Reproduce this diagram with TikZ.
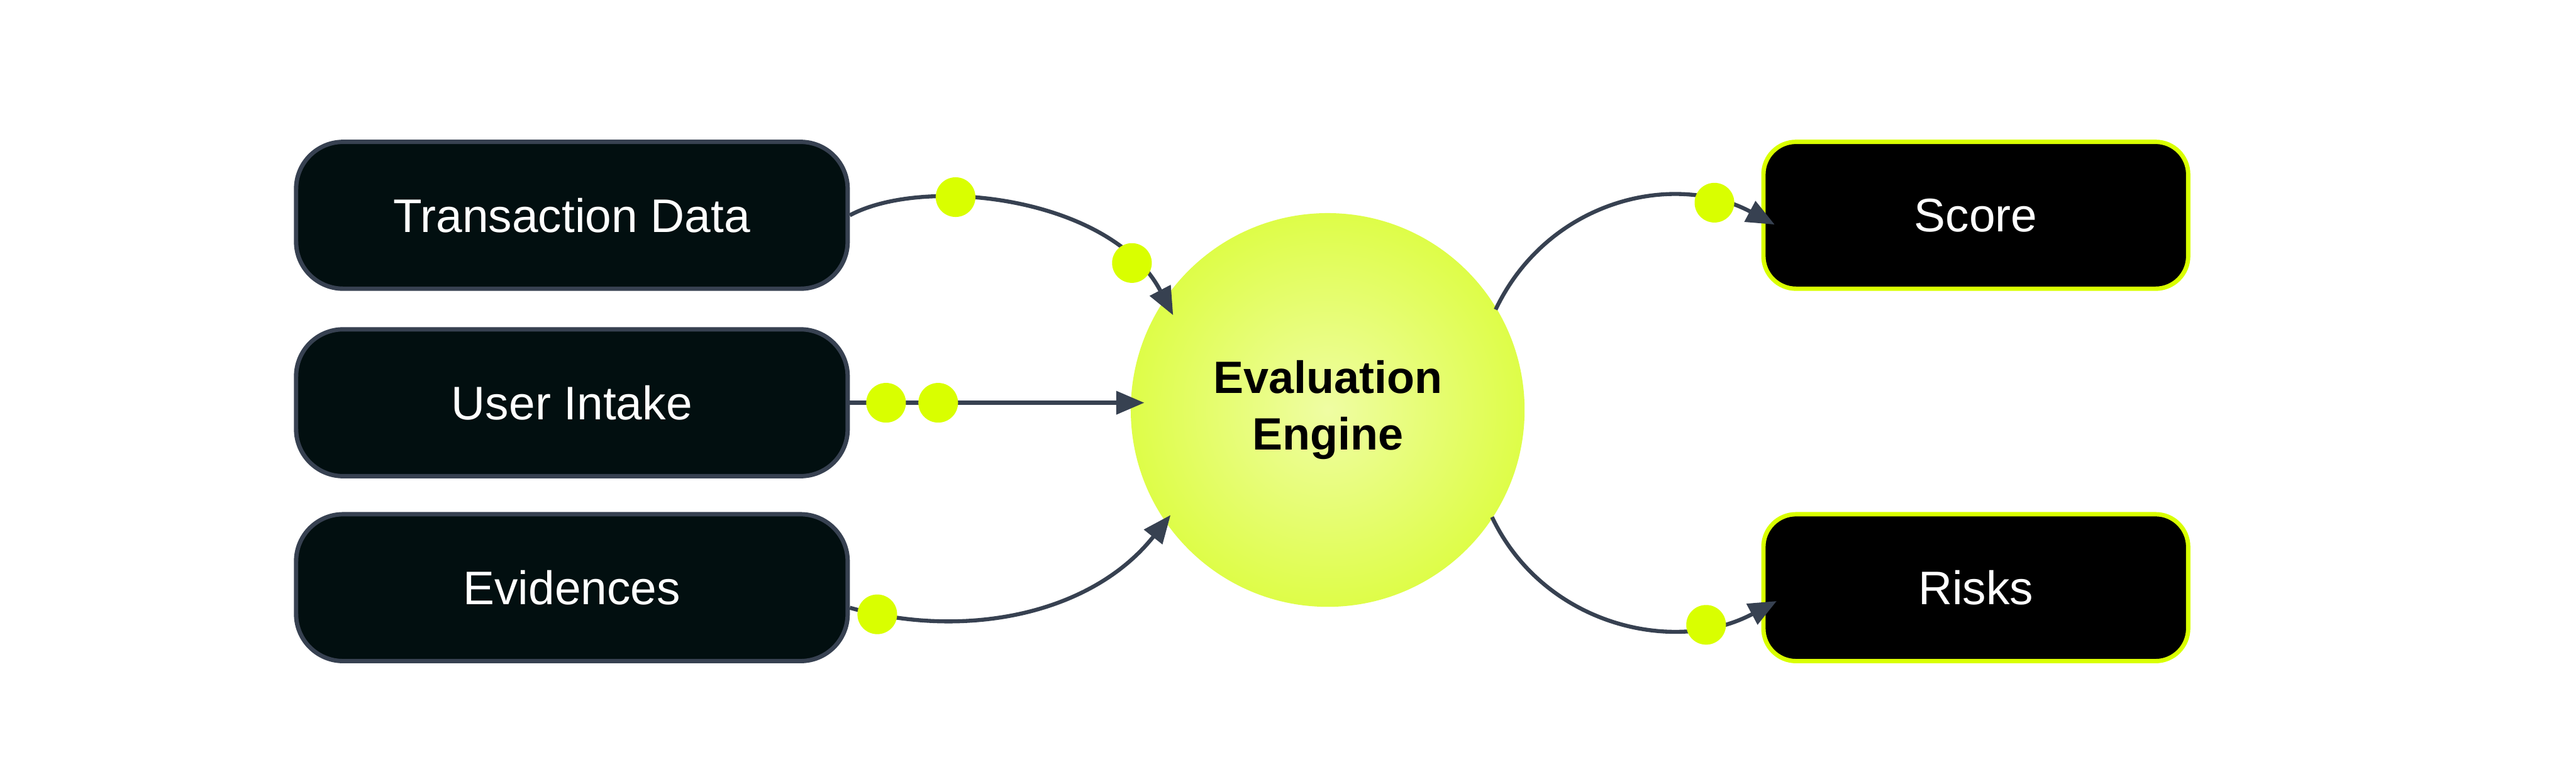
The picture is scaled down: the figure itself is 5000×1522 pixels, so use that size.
\documentclass[tikz,border=0pt]{standalone}
\usepackage{fontspec}
\setmainfont{Liberation Sans}
\usetikzlibrary{arrows.meta,calc}
\definecolor{lime}{HTML}{D9FF00}
\definecolor{edgecol}{HTML}{374151}
\definecolor{boxfill}{HTML}{020F10}
\definecolor{glowin}{HTML}{EFFDA3}
\definecolor{glowout}{HTML}{DEFD48}
\begin{document}
\begin{tikzpicture}[x=0.01cm,y=-0.01cm,
  inbox/.style={draw=edgecol, line width=2.4pt, fill=boxfill, rounded corners=26pt,
    minimum width=10.7cm, minimum height=2.85cm, inner sep=0pt, text=white,
    font=\fontsize{26}{31}\selectfont},
  outbox/.style={draw=lime, line width=2.4pt, fill=black, rounded corners=18pt,
    minimum width=8.24cm, minimum height=2.85cm, inner sep=0pt, text=white,
    font=\fontsize{26}{31}\selectfont},
  hub/.style={circle, minimum size=7.64cm, inner sep=0pt, shading=radial,
    inner color=glowin, outer color=glowout, align=center,
    font=\bfseries\fontsize{25}{31.3}\selectfont},
  flow/.style={draw=edgecol, line width=2.2pt, -{Triangle[length=15.5pt,width=12.6pt]}},
  dot/.style={circle, fill=lime, minimum size=0.77cm, inner sep=0pt}
]
\useasboundingbox (0,0) rectangle (5000,1522);

\node[inbox] (td) at (1110,418) {Transaction Data};
\node[inbox] (ui) at (1110,782) {User Intake};
\node[inbox] (ev) at (1110,1141) {Evidences};
\node[hub] (ee) at (2577,796) {Evaluation\\Engine};
\node[outbox] (sc) at (3835,418) {Score};
\node[outbox] (ri) at (3835,1141) {Risks};

\draw[flow] (td.east) .. controls +(145,-78) and +(-120,-230) .. ($(ee.center)+(-300,-184)$)
  node[dot, pos=0.34] (d1) {} node[dot, pos=0.83] (d2) {};
\draw[flow] (ui.east) -- ($(ui.east -| ee.west)+(27,0)$)
  node[dot, pos=0.123] (d3) {} node[dot, pos=0.30] (d4) {};
\draw[flow] ($(ev.east)+(0,39)$) .. controls +(220,62) and +(-155,195) .. ($(ee.center)+(-305,204)$)
  node[dot, pos=0.08] (d5) {};
\draw[flow] ($(ee.center)+(326,-195)$) .. controls +(100,-210) and +(-199,-106) .. ($(sc.west)+(26,18)$)
  node[dot, pos=0.81] (d6) {};
\draw[flow] ($(ee.center)+(319,208)$) .. controls +(100,210) and +(-199,106) .. ($(ri.west)+(30,26)$)
  node[dot, pos=0.78] (d7) {};
\end{tikzpicture}
\end{document}
